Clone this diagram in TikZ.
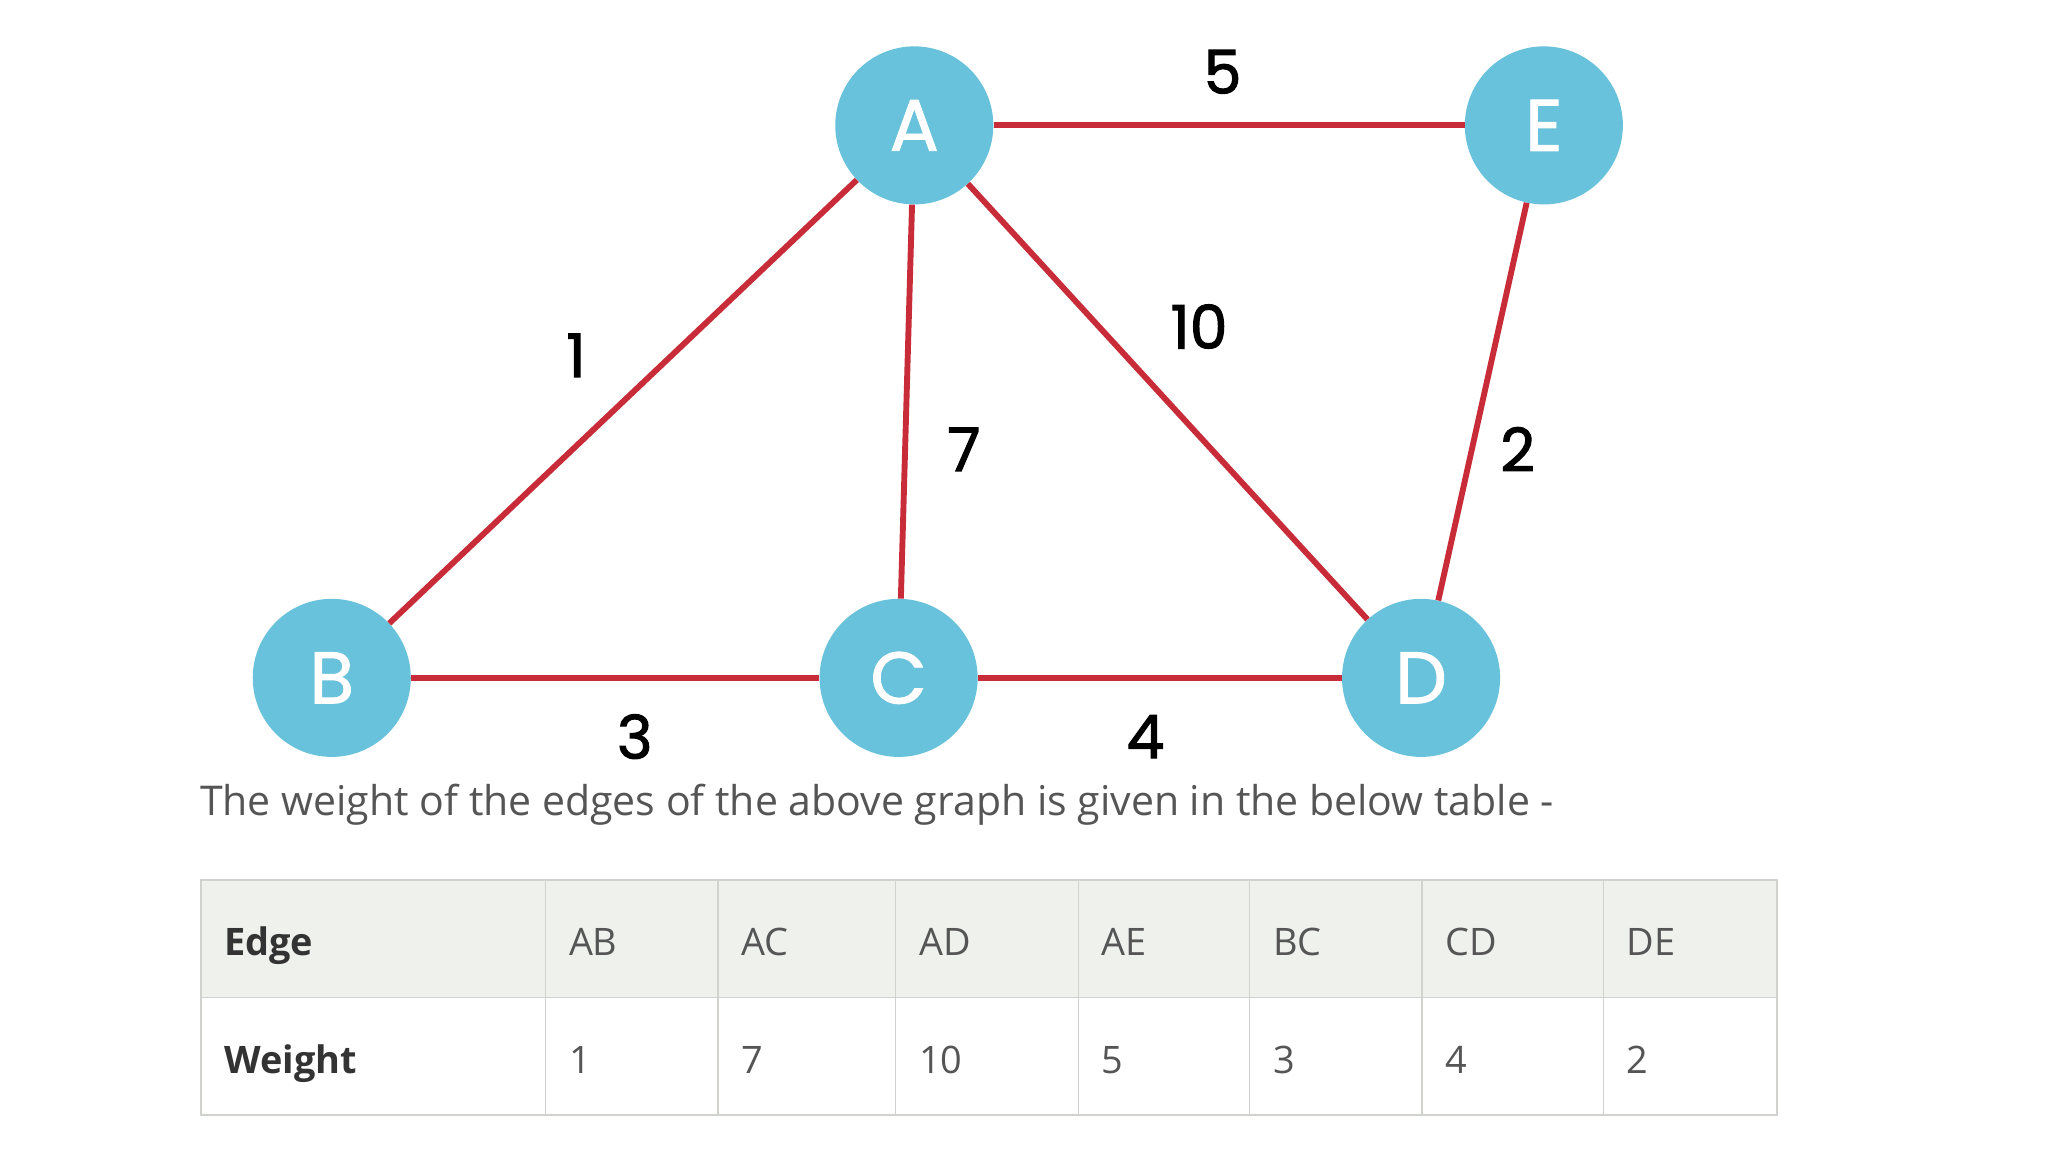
\documentclass[tikz,border=0pt]{standalone}
\usepackage{fontspec}
\setmainfont{Open Sans}
\newfontfamily\geo{Poppins}[FakeBold=1.2]
\newfontfamily\geolabel{Poppins}[FakeBold=1.8]
\definecolor{nodeblue}{RGB}{104,194,219}
\definecolor{edgered}{RGB}{200,44,56}
\definecolor{gridgray}{RGB}{208,210,206}
\definecolor{headbg}{RGB}{239,241,236}
\definecolor{bodytext}{RGB}{85,85,85}
\definecolor{headtext}{RGB}{51,51,51}
\begin{document}
\begin{tikzpicture}[x=1pt,y=-1pt,
  vert/.style={circle, fill=nodeblue, minimum size=121pt, inner sep=0pt, text=white,
    font=\geo\fontsize{56}{56}\selectfont},
  edgeline/.style={draw=edgered, line width=4.5pt},
  wlabel/.style={font=\geolabel\fontsize{46}{46}\selectfont, text=black, inner sep=0pt},
  cell/.style={draw=gridgray, line width=1.3pt, anchor=north west, minimum height=90pt,
    inner xsep=18pt, inner ysep=0pt, text width=#1-36pt, align=left,
    text height=33pt, text depth=7pt,
    font=\fontsize{29}{29}\selectfont, text=bodytext},
  hcell/.style={cell=#1, fill=headbg},
  bcell/.style={cell=#1, fill=white}
]
\useasboundingbox (0,0) rectangle (1568,882);
\fill[white] (0,0) rectangle (1568,882);

% vertices
\node[vert] (A) at (700,96) {A};
\node[vert] (E) at (1182,96) {E};
\node[vert] (B) at (254,519) {B};
\node[vert] (C) at (688,519) {C};
\node[vert] (D) at (1088,519) {D};

% edges
\draw[edgeline] (A) -- (E);
\draw[edgeline] (A) -- (B);
\draw[edgeline] (A) -- (C);
\draw[edgeline] (A) -- (D);
\draw[edgeline] (E) -- (D);
\draw[edgeline] (B) -- (C);
\draw[edgeline] (C) -- (D);

% weights
\node[wlabel] (w5) at (936,55) {5};
\node[wlabel] (w1) at (441,272) {1};
\node[wlabel] (w7) at (738,344) {7};
\node[wlabel] (w10) at (918,250) {10};
\node[wlabel] (w2) at (1162,344) {2};
\node[wlabel] (w3) at (486,564) {3};
\node[wlabel] (w4) at (877,564) {4};

% caption
\node[anchor=base west, inner sep=0pt, font=\fontsize{31.4}{32}\selectfont, text=bodytext] (cap) at (153,624)
  {The weight of the edges of the above graph is given in the below table -};

% table header row
\node[hcell=264pt, font=\bfseries\fontsize{29}{29}\selectfont, text=headtext] (h0) at (153,673) {Edge};
\node[hcell=132pt] (h1) at (417,673) {AB};
\node[hcell=136pt] (h2) at (549,673) {AC};
\node[hcell=140pt] (h3) at (685,673) {AD};
\node[hcell=131pt] (h4) at (825,673) {AE};
\node[hcell=132pt] (h5) at (956,673) {BC};
\node[hcell=139pt] (h6) at (1088,673) {CD};
\node[hcell=133pt] (h7) at (1227,673) {DE};
% table body row
\node[bcell=264pt, font=\bfseries\fontsize{29}{29}\selectfont, text=headtext] (b0) at (153,763) {Weight};
\node[bcell=132pt] (b1) at (417,763) {1};
\node[bcell=136pt] (b2) at (549,763) {7};
\node[bcell=140pt] (b3) at (685,763) {10};
\node[bcell=131pt] (b4) at (825,763) {5};
\node[bcell=132pt] (b5) at (956,763) {3};
\node[bcell=139pt] (b6) at (1088,763) {4};
\node[bcell=133pt] (b7) at (1227,763) {2};
\end{tikzpicture}
\end{document}
